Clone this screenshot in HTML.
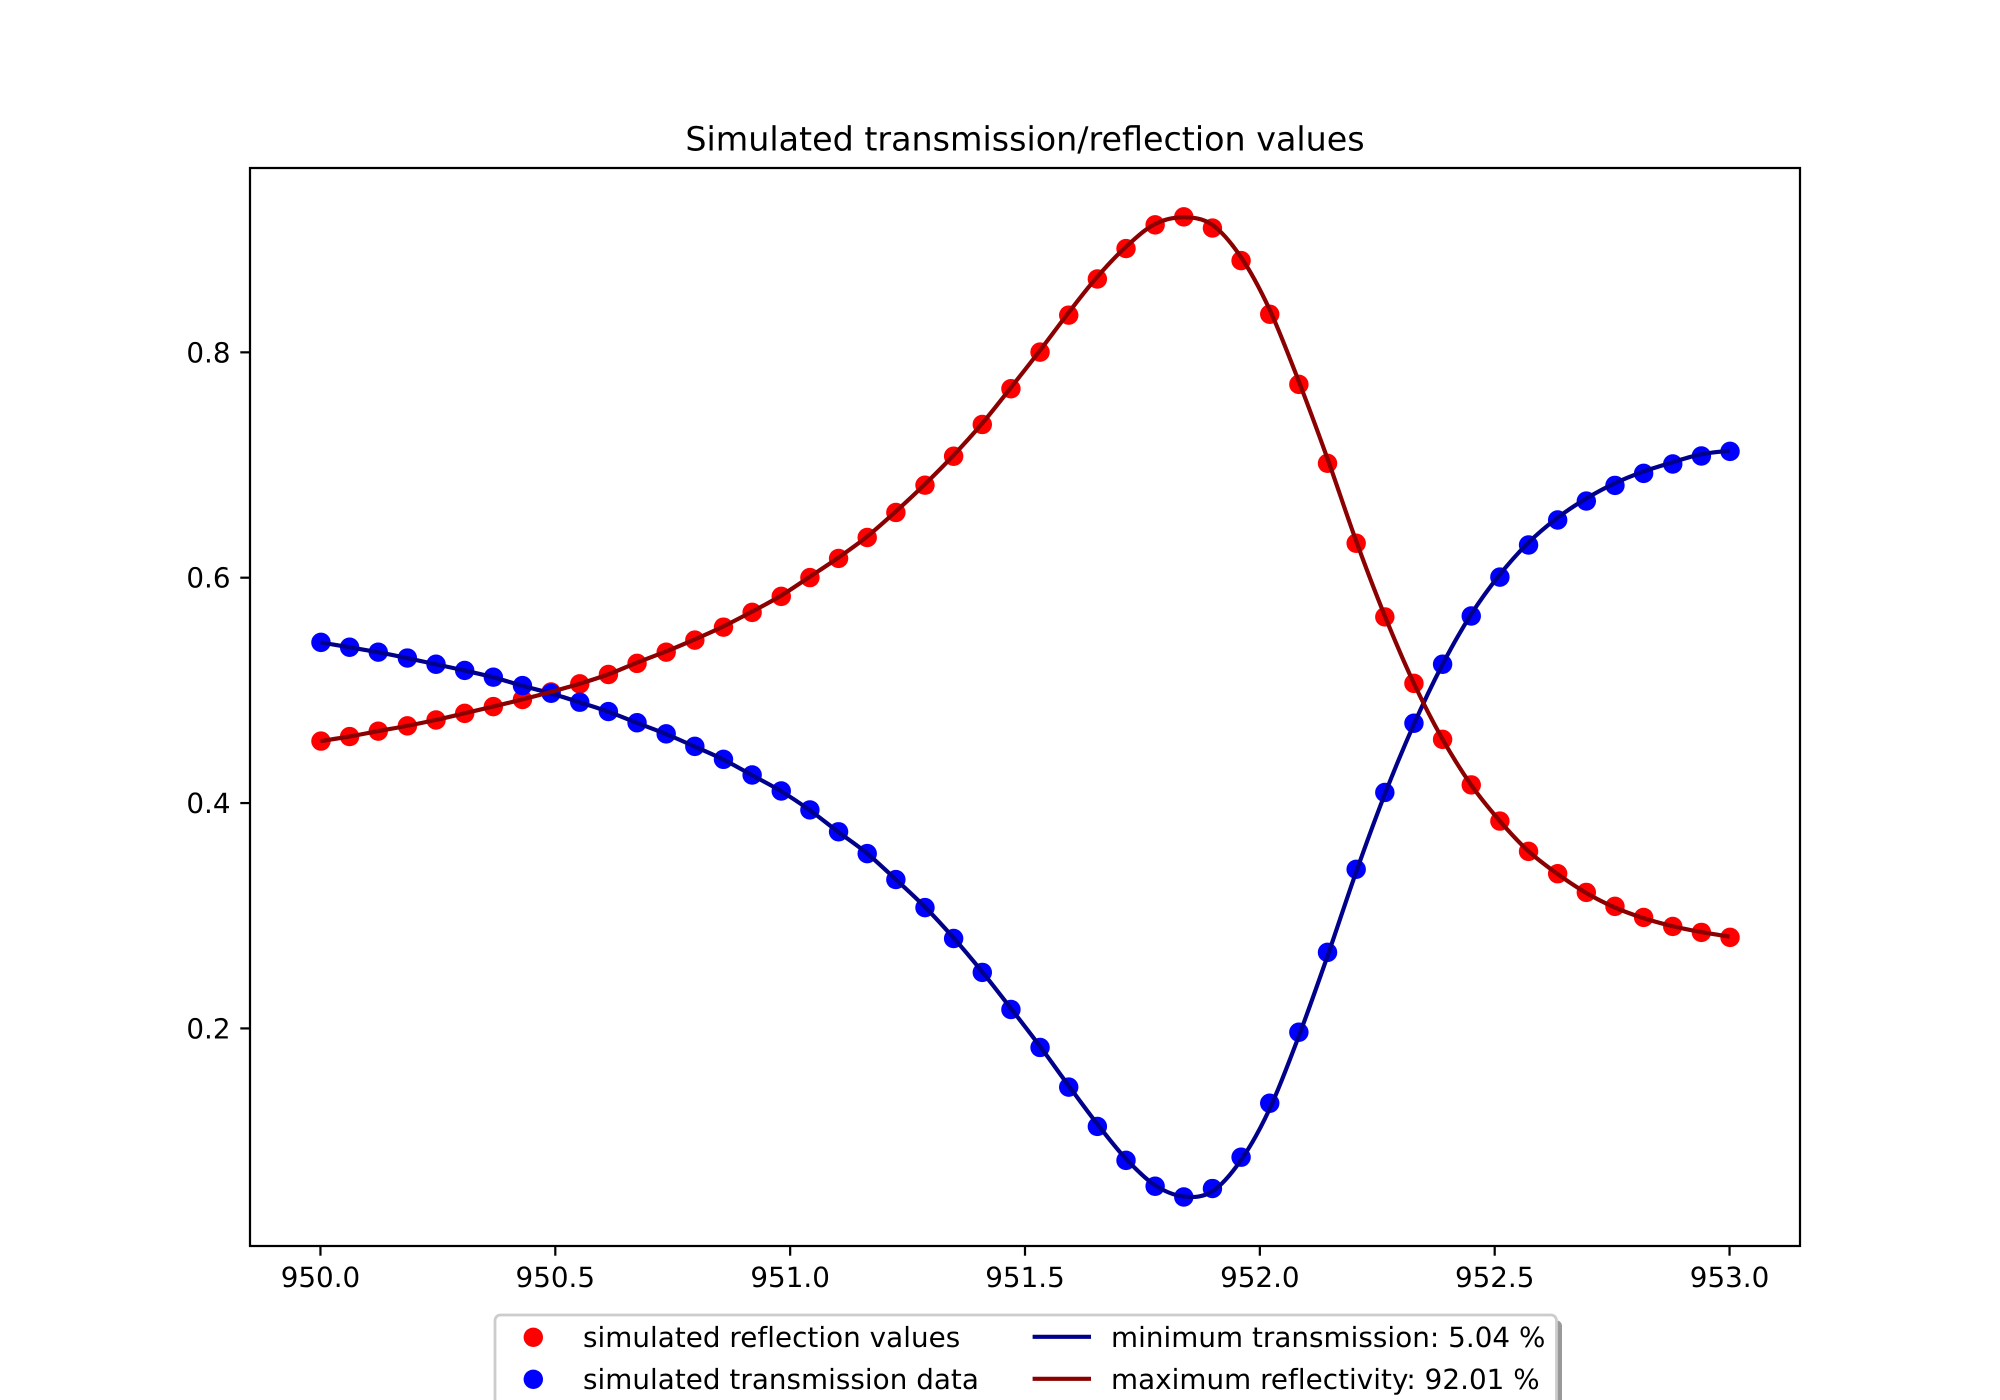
<!DOCTYPE html>
<html lang="en">
<head>
<meta charset="utf-8">
<title>Simulated transmission/reflection values</title>
<style>
html,body{margin:0;padding:0;background:#fff;width:2000px;height:1400px;overflow:hidden}
svg{display:block}
text{font-family:"DejaVu Sans","Liberation Sans",sans-serif;fill:#000;text-rendering:geometricPrecision}
.legend-text{letter-spacing:0.045px}
</style>
</head>
<body>
<svg id="chart" xmlns="http://www.w3.org/2000/svg" width="2000" height="1400" viewBox="0 0 2000 1400">
  <rect x="0" y="0" width="2000" height="1400" fill="#fff"/>
  <text x="1025" y="150.5" font-size="33.33" text-anchor="middle">Simulated transmission/reflection values</text>
  <g id="series-layer"></g>
  <rect x="250" y="168" width="1550" height="1078" fill="none" stroke="#000" stroke-width="2.22"/>
  <g id="tick-layer"></g>
  <g>
    <rect x="500.5" y="1320.5" width="1061.5" height="130" rx="5.5" fill="#808080" fill-opacity="0.8"/>
    <rect x="495" y="1315" width="1061.5" height="130" rx="5.5" fill="#fff" stroke="#cccccc" stroke-width="2.78"/>
    <circle cx="533.3" cy="1337.3" r="9.72" fill="#ff0000"/>
    <text class="legend-text" x="583" y="1346.8" font-size="27.78">simulated reflection values</text>
    <circle cx="533.3" cy="1379.3" r="9.72" fill="#0000ff"/>
    <text class="legend-text" x="583" y="1388.8" font-size="27.78">simulated transmission data</text>
    <line x1="1032.6" x2="1091" y1="1336.8" y2="1336.8" stroke="#00008b" stroke-width="4.17"/>
    <text class="legend-text" x="1111" y="1346.8" font-size="27.78">minimum transmission: 5.04 %</text>
    <line x1="1032.6" x2="1091" y1="1378.8" y2="1378.8" stroke="#8b0000" stroke-width="4.17"/>
    <text class="legend-text" x="1111" y="1388.8" font-size="27.78">maximum reflectivity: 92.01 %</text>
  </g>
</svg>
<script>
const wavelengths = [950.000,950.061,950.122,950.184,950.245,950.306,950.367,950.429,950.490,950.551,
  950.612,950.673,950.735,950.796,950.857,950.918,950.980,951.041,951.102,951.163,
  951.224,951.286,951.347,951.408,951.469,951.531,951.592,951.653,951.714,951.776,
  951.837,951.898,951.959,952.020,952.082,952.143,952.204,952.265,952.327,952.388,
  952.449,952.510,952.571,952.633,952.694,952.755,952.816,952.878,952.939,953.000];
const reflectionValues = [.4550,.4590,.4638,.4685,.4737,.4796,.4856,.4919,.4986,.5058,
  .5141,.5240,.5339,.5446,.5561,.5692,.5834,.6001,.6171,.6357,
  .6579,.6821,.7078,.7360,.7677,.8002,.8330,.8651,.8921,.9131,
  .9202,.9103,.8814,.8338,.7716,.7015,.6306,.5652,.5062,.4565,
  .4161,.3840,.3571,.3373,.3207,.3083,.2985,.2905,.2852,.2808];
const transmissionValues = [.5426,.5383,.5339,.5287,.5232,.5177,.5117,.5042,.4974,.4895,
  .4812,.4713,.4614,.4503,.4388,.4249,.4107,.3939,.3745,.3551,
  .3321,.3072,.2798,.2497,.2168,.1831,.1479,.1130,.0829,.0599,
  .0504,.0579,.0857,.1336,.1966,.2675,.3412,.4094,.4708,.5232,
  .5660,.6005,.6290,.6512,.6680,.6819,.6926,.7009,.7080,.7121];
const reflectivityFit = [.4550,.4590,.4638,.4685,.4737,.4796,.4856,.4919,.4986,.5058,
  .5141,.5245,.5344,.5451,.5566,.5697,.5839,.6006,.6176,.6362,
  .6584,.6826,.7083,.7365,.7682,.8012,.8348,.8666,.8933,.9137,
  .9198,.9134,.8850,.8387,.7752,.7068,.6338,.5672,.5071,.4574,
  .4166,.3845,.3576,.3373,.3205,.3075,.2980,.2908,.2856,.2814];
const transmissionFit = [.5426,.5383,.5339,.5287,.5232,.5177,.5117,.5042,.4974,.4895,
  .4812,.4713,.4614,.4503,.4388,.4249,.4107,.3939,.3745,.3556,
  .3326,.3082,.2808,.2507,.2183,.1846,.1497,.1157,.0847,.0611,
  .0509,.0552,.0826,.1278,.1921,.2630,.3376,.4067,.4690,.5223,
  .5669,.6023,.6308,.6530,.6700,.6837,.6941,.7024,.7095,.7127];
const xTickValues = [950.0,950.5,951.0,951.5,952.0,952.5,953.0];
const xTickLabels = ["950.0","950.5","951.0","951.5","952.0","952.5","953.0"];
const yTickValues = [0.2,0.4,0.6,0.8];
const yTickLabels = ["0.2","0.4","0.6","0.8"];

const NS = 'http://www.w3.org/2000/svg';
const plot = {left:250,right:1800,top:168,bottom:1246,xMin:949.85,xMax:953.15,yMin:0.0069,yMax:0.9636};
const markerNudge = 0.5;
function xScale(v){return plot.left+(v-plot.xMin)/(plot.xMax-plot.xMin)*(plot.right-plot.left);}
function yScale(v){return plot.bottom-(v-plot.yMin)/(plot.yMax-plot.yMin)*(plot.bottom-plot.top);}

function smoothPath(xs,ys){
  const pts=xs.map(function(x,i){return [xScale(x),yScale(ys[i])];});
  let d='M'+pts[0][0].toFixed(2)+' '+pts[0][1].toFixed(2);
  for(let i=0;i<pts.length-1;i++){
    const p0=pts[Math.max(i-1,0)],p1=pts[i],p2=pts[i+1],p3=pts[Math.min(i+2,pts.length-1)];
    const c1x=p1[0]+(p2[0]-p0[0])/6,c1y=p1[1]+(p2[1]-p0[1])/6;
    const c2x=p2[0]-(p3[0]-p1[0])/6,c2y=p2[1]-(p3[1]-p1[1])/6;
    d+='C'+c1x.toFixed(2)+' '+c1y.toFixed(2)+' '+c2x.toFixed(2)+' '+c2y.toFixed(2)+' '+p2[0].toFixed(2)+' '+p2[1].toFixed(2);
  }
  return d;
}

const seriesLayer=document.getElementById('series-layer');
const tickLayer=document.getElementById('tick-layer');

wavelengths.forEach(function(w,i){
  const c=document.createElementNS(NS,'circle');
  
  
  c.setAttribute('cx',xScale(w)+markerNudge);
  c.setAttribute('cy',yScale(reflectionValues[i]));
  c.setAttribute('r',9.72);
  c.setAttribute('fill','#ff0000');
  seriesLayer.appendChild(c);
});
wavelengths.forEach(function(w,i){
  const c=document.createElementNS(NS,'circle');
  
  
  c.setAttribute('cx',xScale(w)+markerNudge);
  c.setAttribute('cy',yScale(transmissionValues[i]));
  c.setAttribute('r',9.72);
  c.setAttribute('fill','#0000ff');
  seriesLayer.appendChild(c);
});

const transmissionLine=document.createElementNS(NS,'path');


transmissionLine.setAttribute('d',smoothPath(wavelengths,transmissionFit));
transmissionLine.setAttribute('fill','none');
transmissionLine.setAttribute('stroke','#00008b');
transmissionLine.setAttribute('stroke-width','4.17');
seriesLayer.appendChild(transmissionLine);

const reflectivityLine=document.createElementNS(NS,'path');


reflectivityLine.setAttribute('d',smoothPath(wavelengths,reflectivityFit));
reflectivityLine.setAttribute('fill','none');
reflectivityLine.setAttribute('stroke','#8b0000');
reflectivityLine.setAttribute('stroke-width','4.17');
seriesLayer.appendChild(reflectivityLine);

xTickValues.forEach(function(v,i){
  const t=document.createElementNS(NS,'line');
  
  
  t.setAttribute('x1',xScale(v));
  t.setAttribute('x2',xScale(v));
  t.setAttribute('y1',plot.bottom);
  t.setAttribute('y2',plot.bottom+9.7);
  t.setAttribute('stroke','#000');
  t.setAttribute('stroke-width','2.22');
  tickLayer.appendChild(t);
  const l=document.createElementNS(NS,'text');
  
  
  l.setAttribute('x',xScale(v));
  l.setAttribute('y',1287);
  l.setAttribute('font-size','27.78');
  l.setAttribute('text-anchor','middle');
  l.textContent=xTickLabels[i];
  tickLayer.appendChild(l);
});
yTickValues.forEach(function(v,i){
  const t=document.createElementNS(NS,'line');
  
  
  t.setAttribute('x1',plot.left-9.7);
  t.setAttribute('x2',plot.left);
  t.setAttribute('y1',yScale(v));
  t.setAttribute('y2',yScale(v));
  t.setAttribute('stroke','#000');
  t.setAttribute('stroke-width','2.22');
  tickLayer.appendChild(t);
  const l=document.createElementNS(NS,'text');
  
  
  l.setAttribute('x',230.5);
  l.setAttribute('y',yScale(v)+10);
  l.setAttribute('font-size','27.78');
  l.setAttribute('text-anchor','end');
  l.textContent=yTickLabels[i];
  tickLayer.appendChild(l);
});
</script>
</body>
</html>
